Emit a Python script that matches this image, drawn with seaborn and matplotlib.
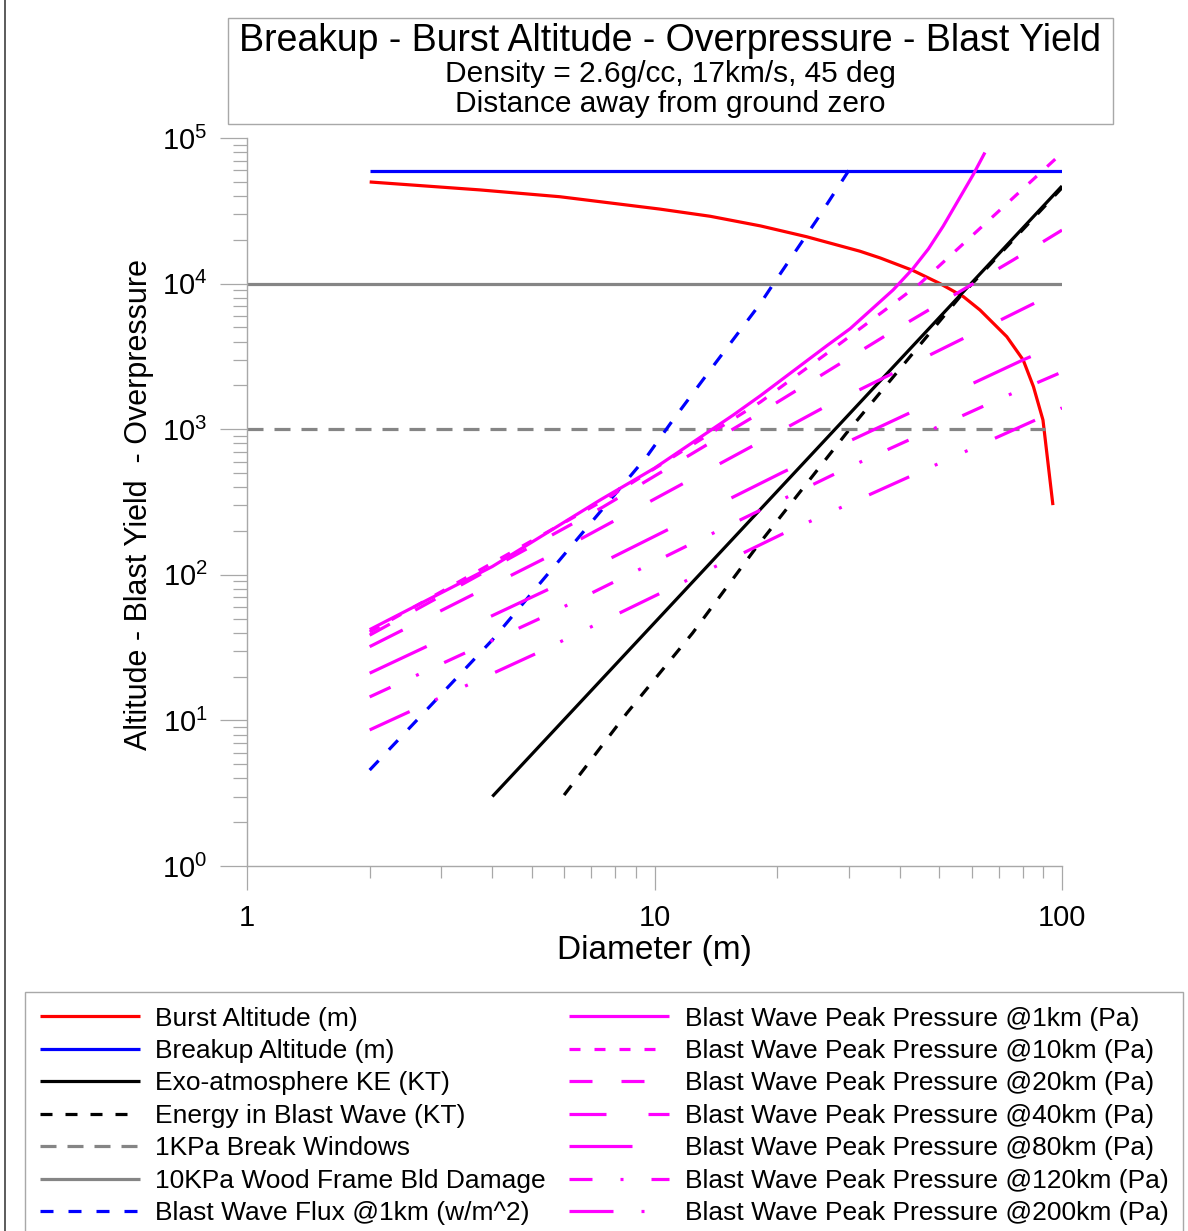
import numpy as np
import pandas as pd
import matplotlib
matplotlib.use("Agg")
import matplotlib.pyplot as plt
import seaborn as sns
from matplotlib.patches import Rectangle
from matplotlib.lines import Line2D
from matplotlib.ticker import LogLocator, NullFormatter, LogFormatterSciNotation

# ---------------- data ----------------
burst_d = [2, 3.73, 5.86, 10.3, 13.7, 18.2, 23.6, 31.9, 35.8, 43.1, 50.2, 57.3, 62.9, 73.2, 80.3, 85.1, 89.8, 95.0]
burst_alt = [49900, 44000, 39500, 32500, 29000, 24900, 21000, 16700, 15000, 12300, 10000, 8130, 6590, 4320, 2990, 1960, 1157, 301]

breakup_d = [2, 100]
breakup_alt = [59500, 59500]

ke_d = [4, 10, 100]
ke_kt = [3.0, 46.8, 46800]

blast_e_d = [6, 8.55, 12.4, 17.8, 29.6, 56.2, 100]
blast_e_kt = [3.07, 11.2, 39.8, 155, 942, 8130, 45500]

windows_d = [1, 91]
windows_pa = [1000, 1000]

wood_d = [1, 100]
wood_pa = [10000, 10000]

flux_d = [2, 2.66, 4, 7.78, 9.57, 11.1, 13.9, 18.2, 19.6, 25, 30]
flux_w = [4.56, 10.6, 35.7, 326, 648, 1157, 2690, 7320, 10000, 27300, 60000]

p1_d = [2, 4, 7.35, 10, 15.6, 18.2, 26.5, 30.2, 38.5, 43.1, 47, 51.1, 60.5, 64.7]
p1 = [42, 114, 326, 540, 1250, 1700, 3750, 4900, 9040, 12700, 17300, 24800, 55800, 79500]

p10_d = [2, 7.6, 18.2, 26.5, 36.8, 44.8, 56.2, 100]
p10 = [40.5, 331, 1538, 3320, 6590, 10000, 17900, 79000]

p20_d = [2, 7.47, 17.8, 37.8, 75.8, 100]
p20 = [38.5, 292, 1252, 4580, 14500, 23300]

p40_d = [2, 5.39, 25.9, 86.8, 100]
p40 = [32.1, 130, 1400, 7480, 9040]

p80_d = [2, 5.45, 20.7, 80.2, 100]
p80 = [21.1, 78.7, 508, 2990, 3900]

p120_d = [2, 5.33, 12.4, 29.0, 69.2, 100]
p120 = [14.5, 51.3, 165, 525, 1585, 2470]

p200_d = [2, 5.15, 21.1, 88.3, 100]
p200 = [8.6, 29, 197, 1194, 1400]

labels = [
    "Burst Altitude (m)",
    "Breakup Altitude (m)",
    "Exo-atmosphere KE (KT)",
    "Energy in Blast Wave (KT)",
    "1KPa Break Windows",
    "10KPa Wood Frame Bld Damage",
    "Blast Wave Flux @1km (w/m^2)",
    "Blast Wave Peak Pressure @1km (Pa)",
    "Blast Wave Peak Pressure @10km (Pa)",
    "Blast Wave Peak Pressure @20km (Pa)",
    "Blast Wave Peak Pressure @40km (Pa)",
    "Blast Wave Peak Pressure @80km (Pa)",
    "Blast Wave Peak Pressure @120km (Pa)",
    "Blast Wave Peak Pressure @200km (Pa)",
]

title_lines = ["Breakup - Burst Altitude - Overpressure - Blast Yield",
               "Density = 2.6g/cc, 17km/s, 45 deg",
               "Distance away from ground zero"]
x_label = "Diameter (m)"
y_label = "Altitude - Blast Yield  - Overpressure"

# ---------------- style ----------------
sns.set_theme(style="white")
plt.rcParams["font.family"] = ["Liberation Sans", "DejaVu Sans"]
plt.rcParams["mathtext.default"] = "regular"
plt.rcParams["lines.scale_dashes"] = False
plt.rcParams["text.color"] = "black"
plt.rcParams["axes.labelcolor"] = "black"
plt.rcParams["xtick.color"] = "black"
plt.rcParams["ytick.color"] = "black"

PX = 0.72  # points per pixel at dpi 100
def pat(*px):
    return (0, tuple(v * PX for v in px))

RED, BLUE, BLACK, GRAY, MAG = "#ff0000", "#0000ff", "#000000", "#858585", "#ff00ff"
SPINE = "#a8a8a8"
LW = 2.3

series = [
    (burst_d, burst_alt, RED, "-"),
    (breakup_d, breakup_alt, BLUE, "-"),
    (ke_d, ke_kt, BLACK, "-"),
    (blast_e_d, blast_e_kt, BLACK, pat(12, 13)),
    (windows_d, windows_pa, GRAY, pat(16, 11)),
    (wood_d, wood_pa, GRAY, "-"),
    (flux_d, flux_w, BLUE, pat(13, 15)),
    (p1_d, p1, MAG, "-"),
    (p10_d, p10, MAG, pat(11, 14)),
    (p20_d, p20, MAG, pat(23, 29)),
    (p40_d, p40, MAG, pat(37, 42)),
    (p80_d, p80, MAG, pat(63, 71)),
    (p120_d, p120, MAG, pat(23, 28, 3, 28)),
    (p200_d, p200, MAG, pat(44, 28, 3, 30, 3, 30)),
]

fig = plt.figure(figsize=(11.88, 12.31), dpi=100)
W, H = 1188, 1231
ax = fig.add_axes([247 / W, 1 - 866 / H, 815 / W, 728 / H])

handles = []
for (xd, yd, col, ls), lab in zip(series, labels):
    sns.lineplot(x=xd, y=yd, ax=ax, color=col, linewidth=LW, label=lab, sort=False)
    ln = ax.lines[-1]
    ln.set_linestyle(ls)
    ln.set_solid_capstyle("butt")
    ln.set_dash_capstyle("butt")
    ln.set_solid_joinstyle("round")
    handles.append(ln)

if ax.get_legend() is not None:
    ax.get_legend().remove()

ax.set_xscale("log")
ax.set_yscale("log")
ax.set_xlim(1, 100)
ax.set_ylim(1, 1e5)

for s in ["top", "right"]:
    ax.spines[s].set_visible(False)
for s in ["left", "bottom"]:
    ax.spines[s].set_color(SPINE)
    ax.spines[s].set_linewidth(1.0)

ax.set_xticks([1, 10, 100], labels=["1", "10", "100"])
ax.xaxis.set_minor_locator(LogLocator(base=10, subs=np.arange(2, 10)))
ax.xaxis.set_minor_formatter(NullFormatter())
ax.yaxis.set_major_locator(LogLocator(base=10, numticks=10))
ax.yaxis.set_major_formatter(LogFormatterSciNotation())
ax.yaxis.set_minor_locator(LogLocator(base=10, subs=np.arange(2, 10), numticks=20))
ax.yaxis.set_minor_formatter(NullFormatter())

ax.tick_params(axis="x", which="major", bottom=True, direction="out", length=24 * PX,
               width=0.9, color=SPINE, pad=10, labelsize=21, labelcolor="black")
ax.tick_params(axis="x", which="minor", bottom=True, direction="out", length=12 * PX,
               width=0.9, color=SPINE)
ax.tick_params(axis="y", which="major", left=True, direction="out", length=27 * PX,
               width=0.9, color=SPINE, pad=9, labelsize=21, labelcolor="black")
ax.tick_params(axis="y", which="minor", left=True, direction="out", length=14 * PX,
               width=0.9, color=SPINE)
ax.grid(False)
ax.set_xlabel("")
ax.set_ylabel("")

ax.text(0.5, (866 - 950) / 728, x_label, transform=ax.transAxes, ha="center",
        va="center", fontsize=24, color="black")
ax.text((139 - 247) / 815, (866 - 505) / 728, y_label, transform=ax.transAxes,
        ha="center", va="center", rotation=90, fontsize=22, color="black")

# title box
fig.add_artist(Rectangle((228 / W, 1 - 124 / H), (1113 - 228) / W, 106 / H,
                         transform=fig.transFigure, fill=False, edgecolor=SPINE, lw=1.0))
fig.text(670 / W, 1 - 41 / H, title_lines[0], ha="center", va="center", fontsize=27, color="black")
fig.text(670 / W, 1 - 74 / H, title_lines[1], ha="center", va="center", fontsize=21.5, color="black")
fig.text(670 / W, 1 - 104 / H, title_lines[2], ha="center", va="center", fontsize=21.5, color="black")

# left border of the figure
fig.add_artist(Line2D([5 / W, 5 / W], [0, 1], transform=fig.transFigure, color="#404040", lw=1.2))

leg = fig.legend(handles, labels, loc="upper left", bbox_to_anchor=(25 / W, 1 - 992 / H),
                 bbox_transform=fig.transFigure, borderaxespad=0, ncol=2, fontsize=19,
                 frameon=True, fancybox=False, edgecolor=SPINE, framealpha=1,
                 handlelength=3.8, handletextpad=0.57, columnspacing=0.9,
                 labelspacing=0.32, borderpad=0.55)
leg.get_frame().set_linewidth(1.0)
for t in leg.get_texts():
    t.set_color("black")

fig.savefig("out.png", dpi=100, facecolor="white")
